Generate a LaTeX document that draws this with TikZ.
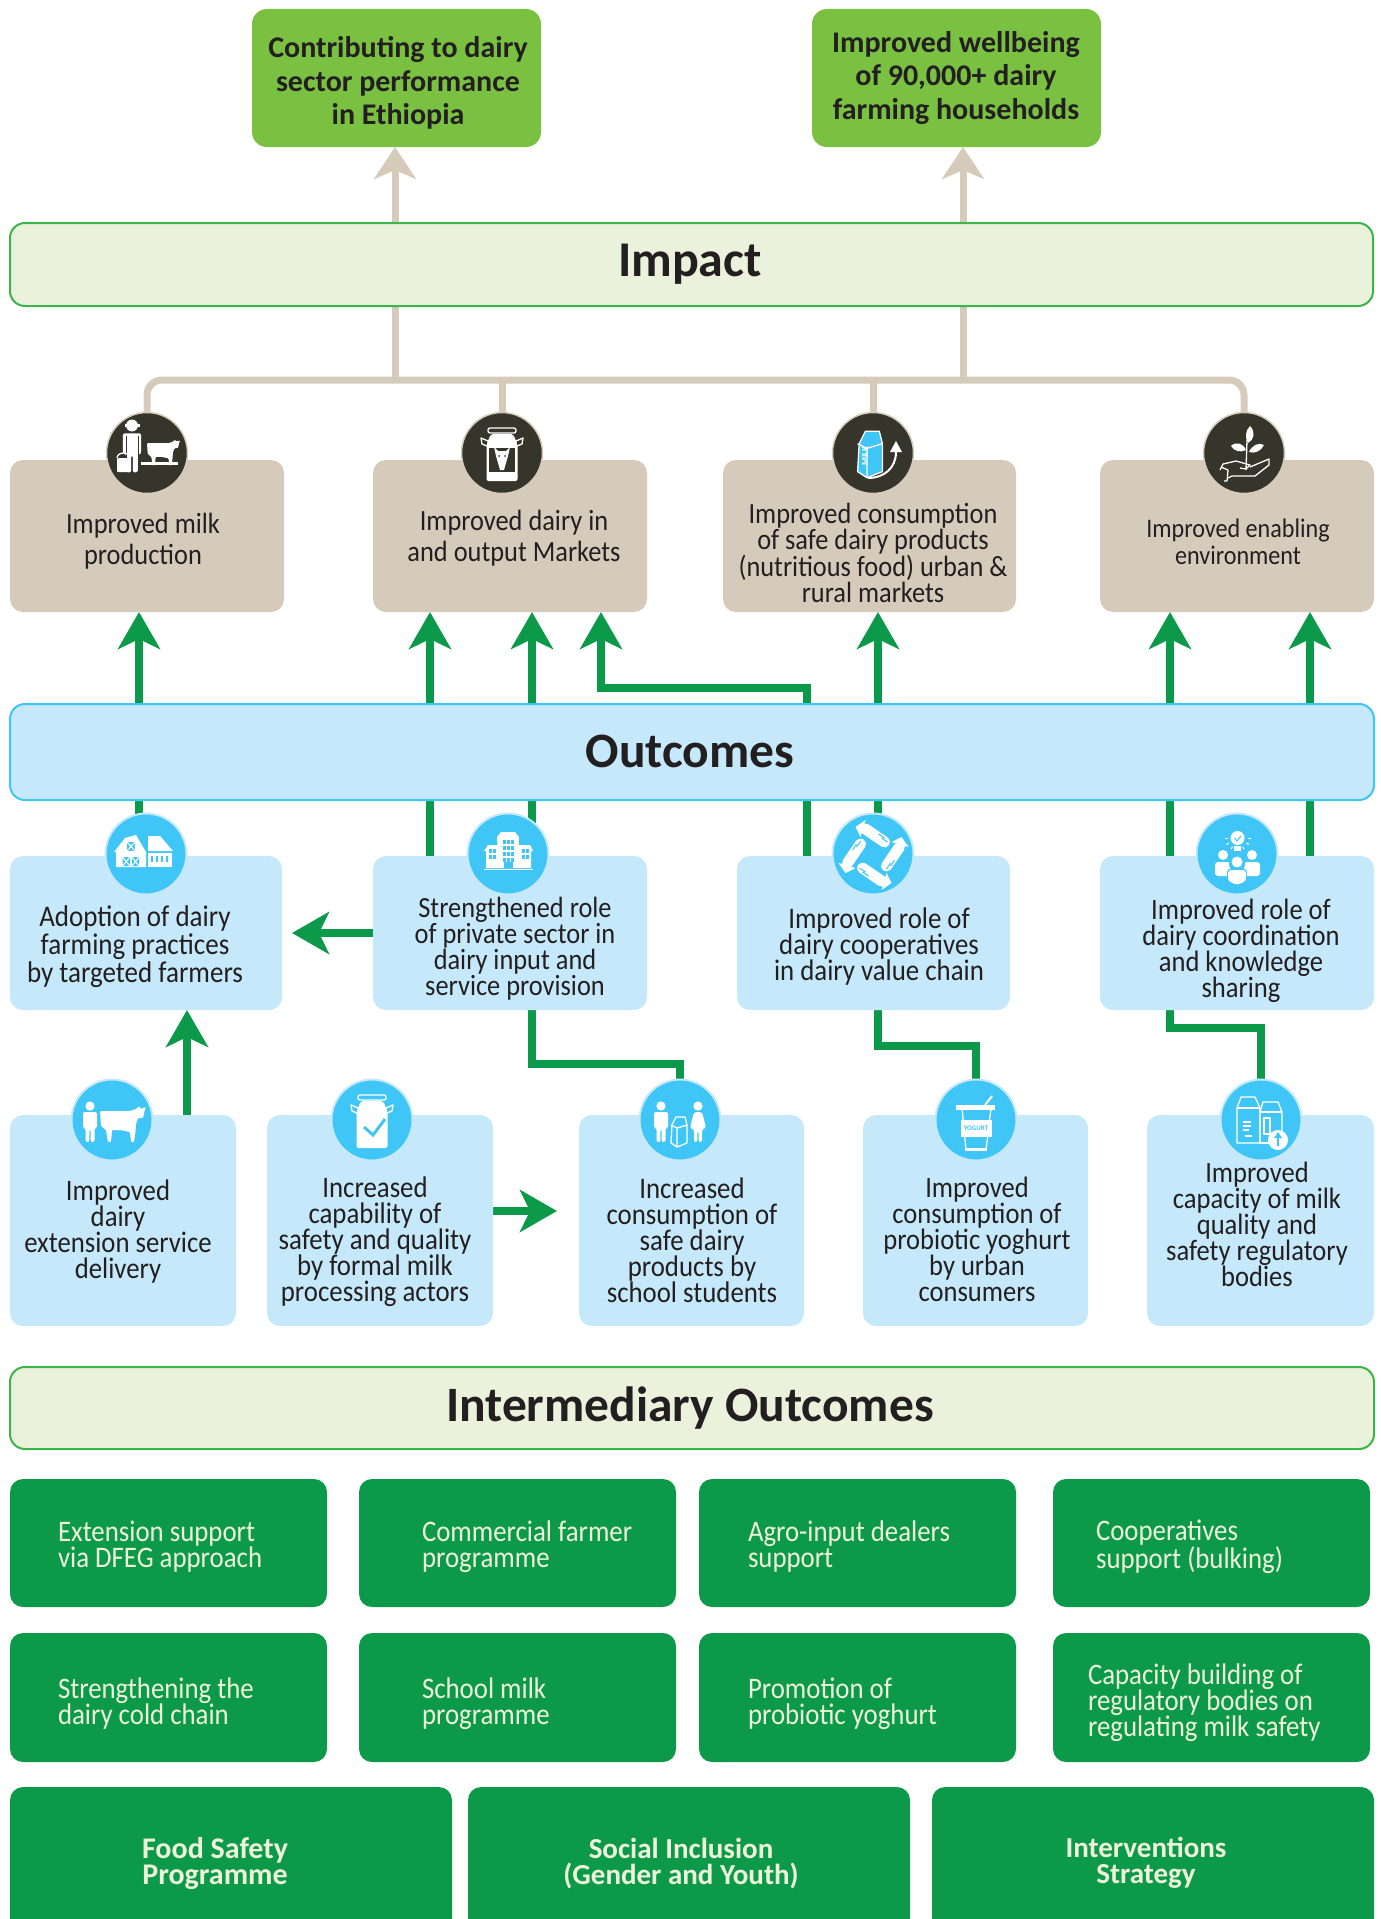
\documentclass[tikz,border=0pt]{standalone}
\usepackage{fontspec}
\setmainfont[FakeStretch=0.9,BoldFeatures={FakeStretch=1}]{Carlito}
\usetikzlibrary{arrows.meta,calc}
\definecolor{dgreen}{HTML}{0C9A4A}
\definecolor{lgreen}{HTML}{7AC142}
\definecolor{beige}{HTML}{D6CBBB}
\definecolor{darkc}{HTML}{35352B}
\definecolor{lblue}{HTML}{C5E9FA}
\definecolor{mblue}{HTML}{40C6F6}
\definecolor{cream}{HTML}{EBF2DC}
\definecolor{barg}{HTML}{39B54A}
\definecolor{inkc}{HTML}{231F20}
\definecolor{creamt}{HTML}{EEF4DA}
\pgfdeclarelayer{bg}
\pgfsetlayers{bg,main}
\tikzset{
 boxbase/.style={inner sep=0pt,outer sep=0pt,rounded corners=13pt},
 topbox/.style={boxbase,fill=lgreen,rounded corners=15pt},
 barg/.style={boxbase,fill=cream,draw=barg,line width=2pt,rounded corners=15pt},
 barb/.style={boxbase,fill=lblue,draw=mblue,line width=2pt,rounded corners=15pt},
 beigebox/.style={boxbase,fill=beige},
 bluebox/.style={boxbase,fill=lblue},
 greenbox/.style={boxbase,fill=dgreen},
 darkdot/.style={circle,fill=darkc,draw=beige,line width=1.5pt,minimum size=81pt,inner sep=0pt,outer sep=0pt},
 bluedot/.style={circle,fill=mblue,draw=lblue,line width=2pt,minimum size=81pt,inner sep=0pt,outer sep=0pt},
 txt/.style={inner sep=0pt,outer sep=0pt,align=center,text=inkc},
 btxt/.style={txt,node font=\bfseries},
 gtxt/.style={inner sep=0pt,outer sep=0pt,align=left,anchor=west,text=creamt},
 gbtxt/.style={inner sep=0pt,outer sep=0pt,align=center,text=creamt,node font=\bfseries},
 garrow/.style={draw=dgreen,line width=8pt,-{Stealth[length=37pt,width=42pt,inset=10pt]}},
 gline/.style={draw=dgreen,line width=8pt},
 barrow/.style={draw=beige,line width=7pt,-{Stealth[length=32pt,width=42pt,inset=9pt]}},
 bline/.style={draw=beige,line width=7pt},
 il/.style={draw=white,line width=1.3pt,fill=none,line join=round},
}
\newcommand{\bx}[6]{\pgfmathsetmacro\bcx{(#3+#5)/2}\pgfmathsetmacro\bcy{(#4+#6)/2}\pgfmathsetmacro\bww{#5-#3}\pgfmathsetmacro\bhh{#6-#4}\node[#2,minimum width=\bww pt,minimum height=\bhh pt] (#1) at (\bcx,\bcy) {};}
\newcommand{\tx}[7]{\node[#2,font=\fontsize{#5}{#6}\selectfont] (#1) at (#3,#4) {#7};}
\newcommand{\personicon}[3]{\begin{scope}[shift={(#1,#2)},scale=#3]
 \fill[white] (0,-15) circle[radius=4.6pt];
 \fill[white,rounded corners=2pt] (-7,-9)--(7,-9)--(7,7)--(4.5,7)--(4.5,21)--(0.6,21)--(0.6,8)--(-0.6,8)--(-0.6,21)--(-4.5,21)--(-4.5,7)--(-7,7)--cycle;
\end{scope}}
\newcommand{\womanicon}[3]{\begin{scope}[shift={(#1,#2)},scale=#3]
 \fill[white] (0,-15) circle[radius=4.6pt];
 \fill[white,rounded corners=2pt] (-4,-9)--(4,-9)--(8,7)--(5,7)--(4,10)--(4,21)--(0.6,21)--(0.6,10)--(-0.6,10)--(-0.6,21)--(-4,21)--(-4,10)--(-5,7)--(-8,7)--cycle;
\end{scope}}
\newcommand{\cowicon}[3]{\begin{scope}[shift={(#1,#2)},scale=#3]
 \fill[white,rounded corners=1pt] (0,3)--(30,3)--(36,1)--(39,-2)--(41,1)--(46,-1)--(44.5,3)--(43,10)--(38,10)--(36,16)--(35.5,24)--(34,34)--(31,34)--(30,24)--(20,22)--(12,22)--(11,34)--(8,34)--(6,22)--(1,18)--cycle;
\end{scope}}
\newcommand{\canicon}[2]{\begin{scope}[shift={(#1,#2)}]
 \draw[il,rounded corners=2pt] (-14,-25) rectangle (14,-20);
 \fill[white,rounded corners=2pt] (-11,-19)--(11,-19)--(15.5,-9)--(15.5,28)--(-15.5,28)--(-15.5,-9)--cycle;
 \draw[il] (-14,-12) -- (-21,-15) -- (-20,-9) -- (-15,-7);
 \draw[il] (14,-12) -- (21,-15) -- (20,-9) -- (15,-7);
\end{scope}}
\newcommand{\cartonicon}[3]{\begin{scope}[shift={(#1,#2)},scale=#3]
 \draw[il,fill=mblue,line join=round] (-7,-6)--(-3,-14)--(6,-14)--(8,-6)--(8,12)--(-2,16)--(-8,12)--cycle;
 \draw[il] (-8,-6)--(-2,-3)--(8,-6) (-2,-3)--(-2,16);
\end{scope}}
\begin{document}
\begin{tikzpicture}[x=1pt,y=-1pt]
\useasboundingbox (0,0) rectangle (1381,1919);
\clip (0,0) rectangle (1381,1919);
% ---------- boxes
\bx{goal1}{topbox}{252}{9}{541}{147}
\bx{goal2}{topbox}{812}{9}{1101}{147}
\bx{impact}{barg}{10}{223}{1373}{306}
\bx{res1}{beigebox}{10}{460}{284}{612}
\bx{res2}{beigebox}{373}{460}{647}{612}
\bx{res3}{beigebox}{723}{460}{1016}{612}
\bx{res4}{beigebox}{1100}{460}{1374}{612}
\bx{outc}{barb}{10}{704}{1374}{800}
\bx{mid1}{bluebox}{10}{856}{282}{1010}
\bx{mid2}{bluebox}{373}{856}{647}{1010}
\bx{mid3}{bluebox}{737}{856}{1010}{1010}
\bx{mid4}{bluebox}{1100}{856}{1374}{1010}
\bx{low1}{bluebox}{10}{1115}{236}{1326}
\bx{low2}{bluebox}{267}{1115}{493}{1326}
\bx{low3}{bluebox}{579}{1115}{804}{1326}
\bx{low4}{bluebox}{863}{1115}{1088}{1326}
\bx{low5}{bluebox}{1147}{1115}{1374}{1326}
\bx{inter}{barg}{10}{1367}{1374}{1449}
\bx{gr1}{greenbox}{10}{1479}{327}{1607}
\bx{gr2}{greenbox}{359}{1479}{676}{1607}
\bx{gr3}{greenbox}{699}{1479}{1016}{1607}
\bx{gr4}{greenbox}{1053}{1479}{1370}{1607}
\bx{gr5}{greenbox}{10}{1633}{327}{1762}
\bx{gr6}{greenbox}{359}{1633}{676}{1762}
\bx{gr7}{greenbox}{699}{1633}{1016}{1762}
\bx{gr8}{greenbox}{1053}{1633}{1370}{1762}
\bx{st1}{greenbox}{10}{1787}{452}{1960}
\bx{st2}{greenbox}{468}{1787}{910}{1960}
\bx{st3}{greenbox}{932}{1787}{1374}{1960}
% ---------- dots
\node[darkdot] (dk1) at (147,453) {};
\node[darkdot] (dk2) at (502,453) {};
\node[darkdot] (dk3) at (873,453) {};
\node[darkdot] (dk4) at (1244,453) {};
\node[bluedot] (bm1) at (146,854) {};
\node[bluedot] (bm2) at (508,854) {};
\node[bluedot] (bm3) at (873,854) {};
\node[bluedot] (bm4) at (1237,854) {};
\node[bluedot] (bl1) at (112,1120) {};
\node[bluedot] (bl2) at (372,1120) {};
\node[bluedot] (bl3) at (680,1120) {};
\node[bluedot] (bl4) at (976,1120) {};
\node[bluedot] (bl5) at (1261,1120) {};
% ---------- connectors
\coordinate (c139) at (139,0); \coordinate (c430) at (430,0); \coordinate (c532) at (532,0);
\coordinate (c601) at (601,0); \coordinate (c807) at (807,0); \coordinate (c878) at (878,0);
\coordinate (c1170) at (1170,0); \coordinate (c1310) at (1310,0);
\coordinate (c187) at (187,0); \coordinate (c395) at (395,0); \coordinate (c963) at (963,0);
\coordinate (r688) at (0,688); \coordinate (r380) at (0,380); \coordinate (r1064) at (0,1064);
\coordinate (r1046) at (0,1046); \coordinate (r1028) at (0,1028);
\coordinate (tipl) at (292,933); \coordinate (tipr) at (557,1211);
\begin{pgfonlayer}{bg}
\draw[barrow] (c395 |- impact.north) -- (c395 |- goal1.south);
\draw[barrow] (c963 |- impact.north) -- (c963 |- goal2.south);
\draw[bline] (c395 |- impact.south) -- (c395 |- r380);
\draw[bline] (c963 |- impact.south) -- (c963 |- r380);
\draw[bline,rounded corners=15pt] (dk1.center) -- (dk1.center |- r380) -- (dk4.center |- r380) -- (dk4.center);
\draw[bline] (dk2.center) -- (dk2.center |- r380);
\draw[bline] (dk3.center) -- (dk3.center |- r380);
\foreach \cc/\tt in {c139/res1,c430/res2,c532/res2,c878/res3,c1170/res4,c1310/res4}{
 \draw[garrow] (\cc |- outc.north) -- (\cc |- \tt.south);}
\draw[garrow] (c807 |- outc.north) -- (c807 |- r688) -- (c601 |- r688) -- (c601 |- res2.south);
\foreach \cc/\tt in {c139/mid1,c430/mid2,c532/mid2,c807/mid3,c878/mid3,c1170/mid4,c1310/mid4}{
 \draw[gline] (\cc |- outc.south) -- (\cc |- \tt.north);}
\draw[garrow] (mid2.west |- tipl) -- (tipl);
\draw[garrow] (c187 |- low1.north) -- (c187 |- mid1.south);
\draw[gline,line join=miter] (c532 |- mid2.south) -- (c532 |- r1064) -- (bl3.center |- r1064) -- (bl3.center);
\draw[gline,line join=miter] (c878 |- mid3.south) -- (c878 |- r1046) -- (bl4.center |- r1046) -- (bl4.center);
\draw[gline,line join=miter] (c1170 |- mid4.south) -- (c1170 |- r1028) -- (bl5.center |- r1028) -- (bl5.center);
\draw[garrow] (low2.east |- tipr) -- (tipr);
\end{pgfonlayer}
% ---------- texts
\tx{tg1}{btxt}{398}{83}{30}{33.5}{Contributing to dairy\\sector performance\\in Ethiopia}
\tx{tg2}{btxt}{956}{78}{30}{33.5}{Improved wellbeing\\of 90,000+ dairy\\farming households}
\tx{timp}{btxt}{690}{264}{50}{56}{Impact}
\tx{tout}{btxt}{690}{751}{49.5}{56}{Outcomes}
\tx{tint}{btxt}{690}{1408}{49.5}{56}{Intermediary Outcomes}
\tx{tr1}{txt}{143}{541}{29.3}{31}{Improved milk\\production}
\tx{tr2}{txt}{514}{538}{29.3}{31}{Improved dairy in\\and output Markets}
\tx{tr3}{txt}{873}{553}{29.3}{25.7}{Improved consumption\\of safe dairy products\\(nutritious food) urban \&\\rural markets}
\tx{tr4}{txt}{1238}{542}{26.8}{27.5}{Improved enabling\\environment}
\tx{tm1}{txt}{135}{947}{30}{28}{Adoption of dairy\\farming practices\\by targeted farmers}
\tx{tm2}{txt}{515}{949}{29.3}{26}{Strengthened role\\of private sector in\\dairy input and\\service provision}
\tx{tm3}{txt}{879}{947}{29.8}{26}{Improved role of\\dairy cooperatives\\in dairy value chain}
\tx{tm4}{txt}{1241}{951}{29.5}{26}{Improved role of\\dairy coordination\\and knowledge\\sharing}
\tx{tl1}{txt}{118}{1232}{29.7}{26}{Improved\\dairy\\extension service\\delivery}
\tx{tl2}{txt}{375}{1242}{29.8}{26}{Increased\\capability of\\safety and quality\\by formal milk\\processing actors}
\tx{tl3}{txt}{692}{1240}{29.8}{26}{Increased\\consumption of\\safe dairy\\products by\\school students}
\tx{tl4}{txt}{977}{1239}{29.5}{26}{Improved\\consumption of\\probiotic yoghurt\\by urban\\consumers}
\tx{tl5}{txt}{1257}{1224}{29.5}{26}{Improved\\capacity of milk\\quality and\\safety regulatory\\bodies}
\tx{tg1a}{gtxt}{58}{1547}{29.8}{26}{Extension support\\via DFEG approach}
\tx{tg2a}{gtxt}{422}{1547}{29.8}{26}{Commercial farmer\\programme}
\tx{tg3a}{gtxt}{748}{1547}{29.8}{26}{Agro-input dealers\\support}
\tx{tg4a}{gtxt}{1096}{1547}{29.8}{26}{Cooperatives\\support (bulking)}
\tx{tg5a}{gtxt}{58}{1704}{29.8}{26}{Strengthening the\\dairy cold chain}
\tx{tg6a}{gtxt}{422}{1704}{29.8}{26}{School milk\\programme}
\tx{tg7a}{gtxt}{748}{1704}{29.8}{26}{Promotion of\\probiotic yoghurt}
\tx{tg8a}{gtxt}{1088}{1703}{29.8}{26}{Capacity building of\\regulatory bodies on\\regulating milk safety}
\tx{ts1}{gbtxt}{215}{1863}{30}{26}{Food Safety\\Programme}
\tx{ts2}{gbtxt}{681}{1863}{29}{26}{Social Inclusion\\(Gender and Youth)}
\tx{ts3}{gbtxt}{1146}{1863}{29}{26}{Interventions\\Strategy}
% ---------- icons: farmer and cow
\personicon{132}{445}{1.3}
\fill[white] (125,424) rectangle (140,427);
\draw[darkc,line width=1pt] (126,436)--(126,458) (138,436)--(138,458);
\fill[white,rounded corners=1pt] (117,458) rectangle (130,472);
\draw[il] (117,458) arc[start angle=180,end angle=360,x radius=6.5pt,y radius=-5pt];
\cowicon{147}{441}{0.72}
\fill[white] (141,462) rectangle (178,464.5);
% can with goat
\canicon{502}{453}
\fill[darkc] (489,448) rectangle (515,472);
\fill[white] (494,447)--(498,451)--(506,451)--(510,447)--(508,456)--(504,470)--(500,470)--(496,456)--cycle;
\fill[darkc] (499,456) circle[radius=1pt] (505,456) circle[radius=1pt];
% carton and arrow
\cartonicon{870}{453}{1.55}
\node[rotate=90,text=white,inner sep=0pt,node font=\bfseries,font=\fontsize{9}{9}\selectfont] (lmilk) at (865,456) {MILK};
\draw[white,line width=2pt] (868,478) .. controls (884,478) and (896,468) .. (896,452);
\fill[white] (896,441)--(902,452)--(890,452)--cycle;
% plant and hand
\draw[white,line width=1.3pt] (1246,470)--(1247,440);
\fill[white] (1250,426) .. controls (1256,432) and (1254,440) .. (1248,443) .. controls (1245,438) and (1245,431) .. (1250,426);
\fill[white] (1231,446) .. controls (1236,441) and (1243,443) .. (1246,450) .. controls (1240,453) and (1234,451) .. (1231,446);
\fill[white] (1264,445) .. controls (1259,442) and (1252,445) .. (1249,452) .. controls (1255,454) and (1261,451) .. (1264,445);
\draw[il] (1220,470)--(1223,464)--(1236,461)--(1250,465)--(1246,469)--(1240,468);
\draw[il] (1250,467)--(1269,459)--(1269,465)--(1255,476)--(1232,476)--(1228,478);
\draw[il] (1221,467)--(1228,470)--(1227,481)--(1224,481);
% barn
\fill[white] (116,867)--(116,852)--(114,852)--(125,838)--(136,835)--(146,852)--(146,867)--cycle;
\fill[white] (148,836)--(160,836)--(173,851)--(148,851)--cycle;
\fill[white] (148,853) rectangle (172,867);
\fill[mblue] (127,842) rectangle (135,851);
\fill[mblue] (122.5,857) rectangle (130,866) (132,857) rectangle (139,866);
\draw[white,line width=1pt] (127,842)--(135,851) (135,842)--(127,851) (122.5,857)--(130,866) (130,857)--(122.5,866) (132,857)--(139,866) (139,857)--(132,866);
\foreach \wx in {151,156,161,166}{\fill[mblue] (\wx,856) rectangle (\wx+2,862);}
% building
\fill[white] (497,837)--(501,832)--(515,832)--(519,837)--(518,868)--(499,868)--cycle;
\fill[white] (484,851)--(488,845)--(499,845)--(499,868)--(486,868)--(486,851)--cycle;
\fill[white] (533,851)--(530,845)--(518,845)--(518,868)--(531,868)--(531,851)--cycle;
\fill[white] (484,868.5) rectangle (533,870);
\foreach \wx in {503,507,511}{\foreach \wy in {840,846,852,858}{\fill[mblue] (\wx,\wy) rectangle (\wx+3,\wy+4);}}
\foreach \wx in {489,493,522,526}{\foreach \wy in {849,855}{\fill[mblue] (\wx,\wy) rectangle (\wx+3,\wy+4);}}
\fill[mblue] (504,862) rectangle (513,868);
% clasped hands
\begin{scope}[shift={(873.5,855)}]
\foreach \ang in {0,90,180,270}{
 \begin{scope}[rotate=\ang]
 \draw[mblue,line width=13pt,line cap=round] (-8,-26)--(11,-13);
 \draw[white,line width=11pt,line cap=round] (-8,-26)--(11,-13);
 \fill[white] (-8,-35)--(-18,-28)--(-13,-18)--cycle;
 \draw[mblue,line width=1pt] (5,-21)--(11,-17) (8,-17)--(14,-13) (10,-22)--(14,-19);
 \end{scope}}
\end{scope}
% bulb and people
\fill[white] (1237.5,838) circle[radius=7pt];
\fill[white] (1234,846) rectangle (1241,851);
\foreach \ang in {-150,-120,-90,-60,-30,0,180}{\draw[white,line width=1pt] ($(1237.5,838)+(\ang:10pt)$)--($(1237.5,838)+(\ang:13pt)$);}
\draw[mblue,line width=1pt] (1234.5,838)--(1237,841)--(1241,836);
\foreach \px in {1223,1252}{
 \fill[white] (\px,855) circle[radius=5pt];
 \fill[white,rounded corners=3pt] (\px-8,862) rectangle (\px+8,876);}
\fill[mblue] (1237,864) circle[radius=8pt];
\fill[mblue,rounded corners=3pt] (1227,869) rectangle (1247,885);
\fill[white] (1237,862) circle[radius=5.5pt];
\fill[white,rounded corners=3pt] (1228,870)--(1246,870)--(1246,881)--(1237,885)--(1228,881)--cycle;
% person and cow
\personicon{90}{1121}{1.0}
\cowicon{100}{1108}{1.0}
% can with tick
\canicon{372}{1120}
\draw[mblue,line width=3pt] (364,1127)--(373,1135)--(385,1119);
% people and carton
\personicon{661}{1121}{1.0}
\womanicon{698}{1121}{1.0}
\cartonicon{679}{1131}{1.0}
% yoghurt
\draw[il] (962,1108)--(966,1150)--(986,1150)--(991,1108);
\fill[white] (956,1105) rectangle (995,1110);
\fill[white] (961,1120) rectangle (992,1137);
\fill[white] (965,1148) rectangle (987,1151);
\draw[white,line width=2pt] (985,1105)--(992,1096);
\node[text=mblue,inner sep=0pt,node font=\bfseries,font=\fontsize{7}{7}\selectfont] (lyog) at (976,1128) {YOGURT};
% two cartons
\draw[il] (1237,1143)--(1237,1108)--(1241,1097)--(1255,1097)--(1260,1108)--(1260,1143)--cycle;
\draw[il] (1237,1108)--(1260,1108);
\draw[il] (1260,1143)--(1260,1112)--(1263,1102)--(1278,1102)--(1282,1112)--(1282,1132);
\draw[il] (1260,1112)--(1282,1112);
\draw[il] (1245,1136)--(1252,1136) (1243,1122)--(1251,1122) (1243,1126)--(1251,1126) (1243,1130)--(1249,1130);
\draw[il] (1264,1118) rectangle (1270,1134);
\draw[il] (1260,1143)--(1270,1143);
\fill[white] (1278,1140) circle[radius=10pt];
\draw[mblue,line width=2pt] (1278,1146)--(1278,1137);
\fill[mblue] (1278,1132)--(1282,1138)--(1274,1138)--cycle;
\end{tikzpicture}
\end{document}
